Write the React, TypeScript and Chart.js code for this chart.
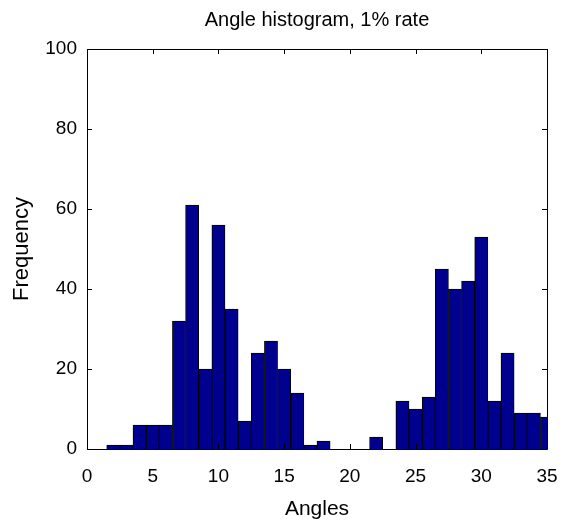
import React, { useEffect, useRef } from "react";
import { Chart, registerables } from "chart.js";

Chart.register(...registerables);

const binCenters = [2, 3, 4, 5, 6, 7, 8, 9, 10, 11, 12, 13, 14, 15, 16, 17, 18, 19, 20, 21, 22, 23, 24, 25, 26, 27, 28, 29, 30, 31, 32, 33, 34, 35];
const frequencies = [1, 1, 6, 6, 6, 32, 61, 20, 56, 35, 7, 24, 27, 20, 14, 1, 2, 0, 0, 0, 3, 0, 12, 10, 13, 45, 40, 42, 53, 12, 24, 9, 9, 8];
const xTicks = [0, 5, 10, 15, 20, 25, 30, 35];
const yTicks = [0, 20, 40, 60, 80, 100];
const titleText = "Angle histogram, 1% rate";
const xLabel = "Angles";
const yLabel = "Frequency";

const FONT = "'Liberation Sans', Arial, Helvetica, sans-serif";

const boxPlugin = {
  id: "boxTicks",
  afterDraw(chart: any) {
    const { ctx, chartArea } = chart;
    const xs = chart.scales.x;
    const ys = chart.scales.y;
    const L = 5;
    ctx.save();
    ctx.strokeStyle = "#000";
    ctx.lineWidth = 1;
    ctx.beginPath();
    ctx.rect(Math.round(chartArea.left) + 0.5, Math.round(chartArea.top) + 0.5,
      Math.round(chartArea.right - chartArea.left), Math.round(chartArea.bottom - chartArea.top));
    for (const v of xTicks) {
      const px = Math.round(xs.getPixelForValue(v)) + 0.5;
      ctx.moveTo(px, chartArea.bottom);
      ctx.lineTo(px, chartArea.bottom - L);
      ctx.moveTo(px, chartArea.top);
      ctx.lineTo(px, chartArea.top + L);
    }
    for (const v of yTicks) {
      const py = Math.round(ys.getPixelForValue(v)) + 0.5;
      ctx.moveTo(chartArea.left, py);
      ctx.lineTo(chartArea.left + L, py);
      ctx.moveTo(chartArea.right, py);
      ctx.lineTo(chartArea.right - L, py);
    }
    ctx.stroke();
    ctx.restore();
  },
};

export default function App() {
  const ref = useRef<HTMLCanvasElement>(null);
  useEffect(() => {
    document.body.style.margin = "0";
    const data = binCenters.map((x, i) => ({ x, y: frequencies[i] }));
    const chart = new Chart(ref.current!, {
      type: "bar",
      data: {
        datasets: [
          {
            data,
            backgroundColor: "#00008F",
            borderColor: "#000000",
            borderWidth: 1,
            barPercentage: 1,
            categoryPercentage: 1,
            clip: 0,
          } as any,
        ],
      },
      options: {
        animation: false,
        responsive: false,
        maintainAspectRatio: false,
        layout: { padding: { left: 0, right: 16, top: 0, bottom: 0 } },
        plugins: {
          legend: { display: false },
          tooltip: { enabled: false },
          title: {
            display: true,
            fullSize: false,
            text: titleText,
            color: "#000",
            font: { family: FONT, size: 20, weight: "normal", lineHeight: 1.2 },
            padding: { top: 8, bottom: 17 },
          },
        },
        scales: {
          x: {
            type: "linear",
            min: 0,
            max: 35,
            offset: false,
            grid: { display: false, drawTicks: false },
            border: { display: false },
            afterBuildTicks: (s: any) => {
              s.ticks = xTicks.map((v) => ({ value: v }));
            },
            afterFit: (s: any) => {
              s.height = 76;
              s.paddingLeft = 0;
              s.paddingRight = 0;
            },
            ticks: {
              color: "#000",
              padding: 16,
              maxRotation: 0,
              autoSkip: false,
              font: { family: FONT, size: 19 },
            },
            title: {
              display: true,
              text: xLabel,
              color: "#000",
              font: { family: FONT, size: 21 },
              padding: { top: 0, bottom: 3 },
            },
          },
          y: {
            min: 0,
            max: 100,
            grid: { display: false, drawTicks: false },
            border: { display: false },
            afterBuildTicks: (s: any) => {
              s.ticks = yTicks.map((v) => ({ value: v }));
            },
            afterFit: (s: any) => {
              s.width = 87;
              s.paddingTop = 0;
              s.paddingBottom = 0;
            },
            ticks: {
              color: "#000",
              padding: 10,
              autoSkip: false,
              font: { family: FONT, size: 19 },
            },
            title: {
              display: true,
              text: yLabel,
              color: "#000",
              font: { family: FONT, size: 22 },
              padding: { top: 9, bottom: 0 },
            },
          },
        },
      },
      plugins: [boxPlugin],
    } as any);
    return () => chart.destroy();
  }, []);
  return (
    <div style={{ width: 563, height: 525 }}>
      <canvas ref={ref} width={563} height={525} style={{ display: "block" }} />
    </div>
  );
}
